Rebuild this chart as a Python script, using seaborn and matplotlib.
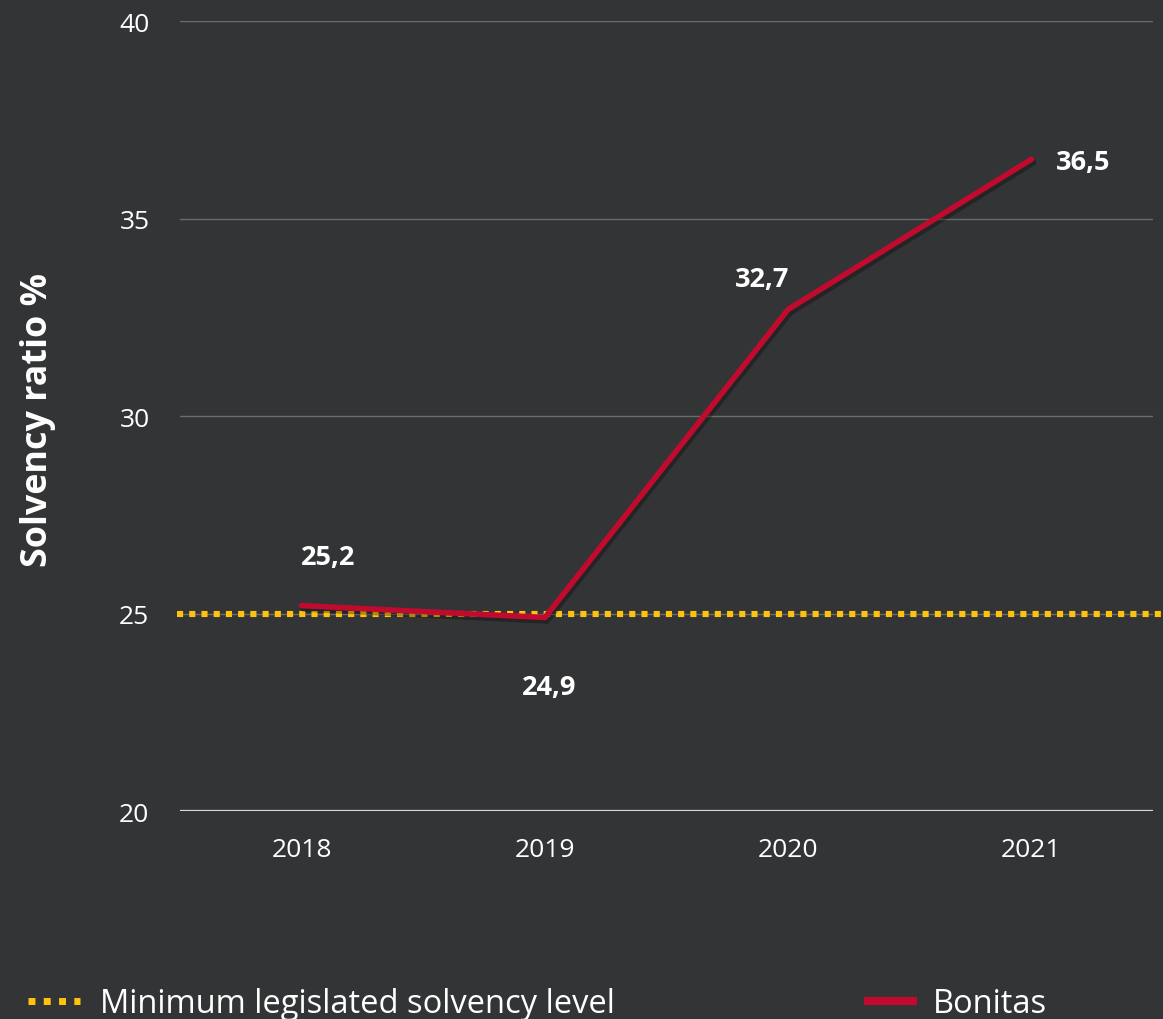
import matplotlib
matplotlib.use("Agg")
import matplotlib.pyplot as plt
import matplotlib.patheffects as pe
from matplotlib.lines import Line2D
import seaborn as sns
import pandas as pd

# Data
years = ["2018", "2019", "2020", "2021"]
bonitas = [25.2, 24.9, 32.7, 36.5]
minimum_level = 25
y_ticks = [20, 25, 30, 35, 40]

# label offsets in points (dx, dy) relative to each point
label_offsets = [(19, 35), (3, -50), (-19, 22), (37, -2)]

BG = "#333436"
RED = "#C00A2E"
YELLOW = "#FFC20E"
GRID = "#6B6B6B"
TEXT = "#FFFFFF"

sns.set_theme(style="dark")
plt.rcParams["font.family"] = ["Open Sans", "DejaVu Sans"]

fig = plt.figure(figsize=(11.63, 10.2), dpi=100, facecolor=BG)
ax = fig.add_axes([0.1548, 0.2039, 0.8366, 0.7745], facecolor=BG)

df = pd.DataFrame({"year": years, "ratio": bonitas})

# horizontal grid
for t in y_ticks[1:]:
    ax.axhline(t, color=GRID, lw=1.0, zorder=1)
ax.axhline(y_ticks[0], color="#D9D9D9", lw=1.6, zorder=1)

# minimum legislated level
ax.axhline(minimum_level, xmin=-0.003, xmax=1.011, color=YELLOW, lw=4.4,
           linestyle=(0, (1, 1)), dash_capstyle="butt", clip_on=False, zorder=3)

sns.lineplot(data=df, x="year", y="ratio", ax=ax, color=RED, lw=4.0,
             sort=False, zorder=4, legend=False,
             path_effects=[pe.SimpleLineShadow(offset=(1.5, -2.5), alpha=0.3,
                                               shadow_color="black"),
                           pe.Normal()])
for line in ax.lines[-1:]:
    line.set_solid_capstyle("round")
    line.set_solid_joinstyle("round")

for i, (v, (dx, dy)) in enumerate(zip(bonitas, label_offsets)):
    ax.annotate(f"{v:.1f}".replace(".", ","), xy=(i, v), xytext=(dx, dy),
                textcoords="offset points", ha="center", va="center",
                color=TEXT, fontsize=19.5, fontweight="bold", zorder=5)

ax.set_xlim(-0.5, 3.5)
ax.set_ylim(20, 40)
ax.set_yticks(y_ticks)
ax.set_xticks(range(len(years)))
ax.set_xticklabels(years)
ax.tick_params(axis="y", length=0, pad=22, labelsize=19, labelcolor=TEXT)
ax.tick_params(axis="x", length=0, pad=19, labelsize=19, labelcolor=TEXT)
ax.set_xlabel("")
ax.set_ylabel("")
ax.grid(False)
for s in ax.spines.values():
    s.set_visible(False)

fig.text(38 / 1163, 1 - 420 / 1020, "Solvency ratio %", rotation=90,
         ha="center", va="center", color=TEXT, fontsize=25.8, fontweight="bold")

# legend
h_min = Line2D([], [], color=YELLOW, lw=5, linestyle=(0, (1, 1.2)),
               dash_capstyle="butt")
h_bon = Line2D([], [], color=RED, lw=6, solid_capstyle="butt")
leg1 = fig.legend([h_min], ["Minimum legislated solvency level"],
                  loc="center left", bbox_to_anchor=(0.0125, 1 - 1005 / 1020),
                  frameon=False, fontsize=23.5, labelcolor=TEXT,
                  handlelength=1.6, handletextpad=0.62, borderaxespad=0)
leg2 = fig.legend([h_bon], ["Bonitas"],
                  loc="center left", bbox_to_anchor=(0.732, 1 - 1005 / 1020),
                  frameon=False, fontsize=23.5, labelcolor=TEXT,
                  handlelength=1.6, handletextpad=0.5, borderaxespad=0)

fig.savefig("out.png", dpi=100, facecolor=BG)
